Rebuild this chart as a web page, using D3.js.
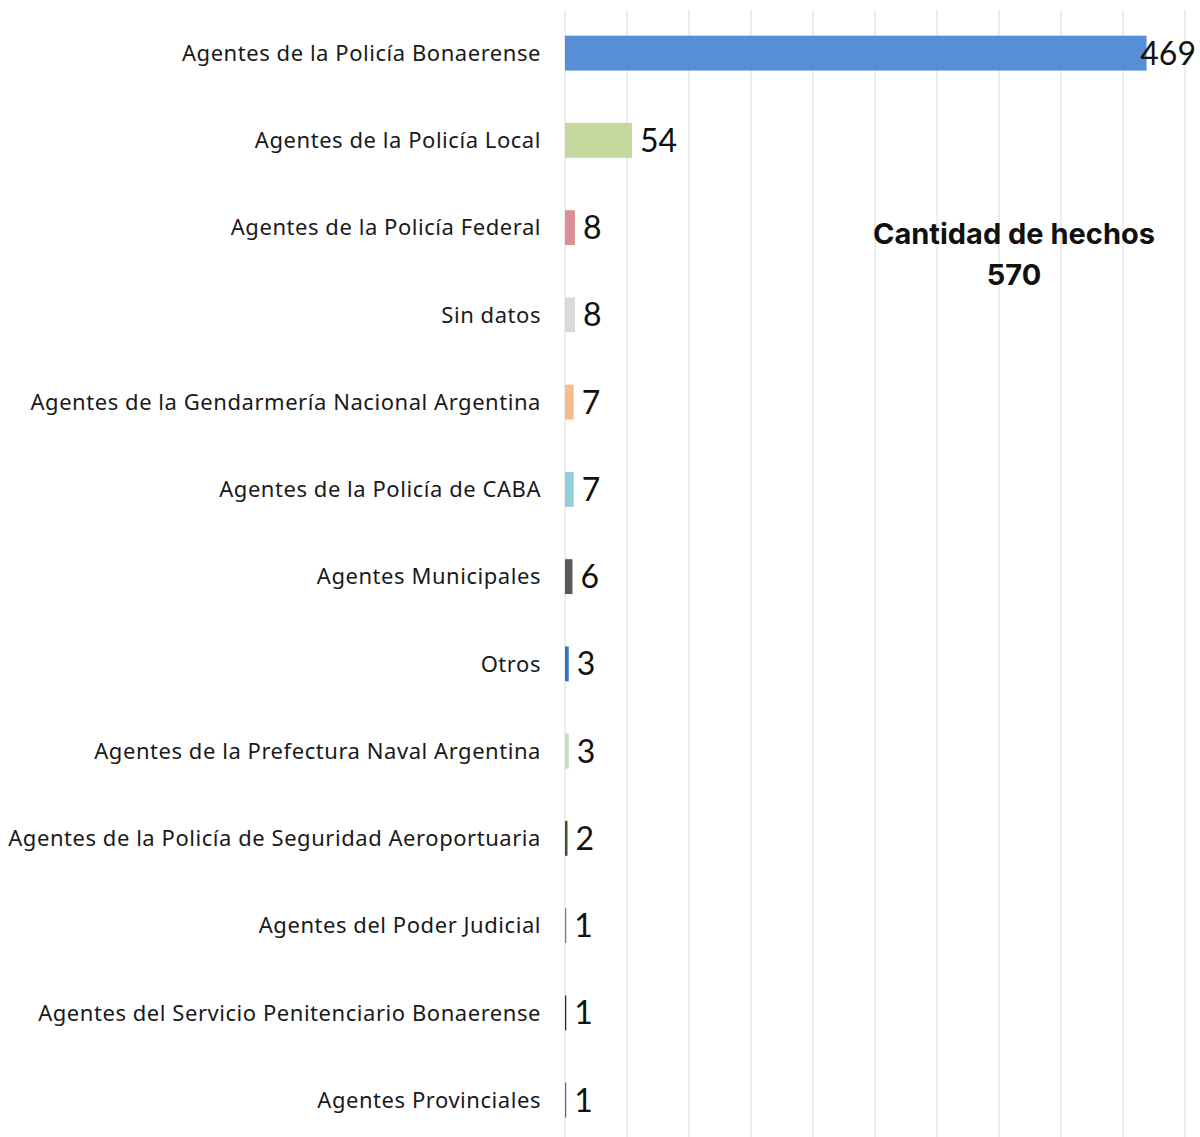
<!DOCTYPE html>
<html>
<head>
<meta charset="utf-8">
<script src="https://cdn.jsdelivr.net/npm/d3@7"></script>
<style>
  body { margin: 0; background: #fff; }
</style>
</head>
<body>
<div id="chart"></div>
<script>
"use strict";

// data
var categories = [
  "Agentes de la Policía Bonaerense",
  "Agentes de la Policía Local",
  "Agentes de la Policía Federal",
  "Sin datos",
  "Agentes de la Gendarmería Nacional Argentina",
  "Agentes de la Policía de CABA",
  "Agentes Municipales",
  "Otros",
  "Agentes de la Prefectura Naval Argentina",
  "Agentes de la Policía de Seguridad Aeroportuaria",
  "Agentes del Poder Judicial",
  "Agentes del Servicio Penitenciario Bonaerense",
  "Agentes Provinciales"
];
var values = [469, 54, 8, 8, 7, 7, 6, 3, 3, 2, 1, 1, 1];
var barColors = ["#568fd6", "#c5d89e", "#d98f93", "#d9d9d9", "#f6bd8c", "#92cddc",
                 "#595959", "#2e75c6", "#c3e0b4", "#375623", "#7f7f7f", "#262626", "#2e75b6"];
var gridTicks = d3.range(0, 501, 50);
var totalTitle = ["Cantidad de hechos", "570"];

var W = 1200, H = 1137;
var svg = d3.select("#chart").append("svg")
    .attr("width", W)
    .attr("height", H);

var x = d3.scaleLinear().domain([0, 500]).range([565, 1185]);
var y = d3.scaleBand().domain(categories)
    .range([9.5, 1143.75])
    .paddingInner(0.6)
    .paddingOuter(0.3);

// vertical grid lines
svg.append("g")
    .selectAll("line").data(gridTicks)
    .join("line")
      .attr("x1", d => x(d)).attr("x2", d => x(d))
      .attr("y1", 10).attr("y2", H)
      .attr("stroke", "#e4e4e4")
      .attr("stroke-width", 1.3);

// bars
svg.append("g")
    .selectAll("rect").data(values)
    .join("rect")
      .attr("x", x(0))
      .attr("y", (d, i) => y(categories[i]))
      .attr("width", d => x(d) - x(0))
      .attr("height", y.bandwidth())
      .attr("fill", (d, i) => barColors[i]);

// category labels
svg.append("g")
    .selectAll("text").data(categories)
    .join("text")
      .attr("x", 541)
      .attr("y", d => y(d) + y.bandwidth() / 2)
      .attr("dy", "0.35em")
      .attr("text-anchor", "end")
      .style("font-family", "'Noto Sans', sans-serif")
      .style("font-size", "22px")
      .style("letter-spacing", "0.55px")
      .style("fill", "#1a1a1a")
      .text(d => d);

// value labels
svg.append("g")
    .selectAll("text").data(values)
    .join("text")
      .attr("x", d => x(d) + 8)
      .attr("y", (d, i) => y(categories[i]) + y.bandwidth() / 2)
      .attr("dy", "0.36em")
      .style("font-family", "Lato, sans-serif")
      .style("font-weight", 400)
      .style("font-size", "32px")
      .style("fill", "#111")
      .text(d => d)
      .each(function() {
        // keep the long one inside the picture
        var len = this.getComputedTextLength();
        var px = +d3.select(this).attr("x");
        if (px + len > W - 4) d3.select(this).attr("x", W - 4 - len);
      });

// total box
svg.append("g")
    .selectAll("text").data(totalTitle)
    .join("text")
      .attr("x", 1014)
      .attr("y", (d, i) => 244 + i * 41)
      .attr("text-anchor", "middle")
      .style("font-family", "Inter, sans-serif")
      .style("font-weight", 700)
      .style("font-size", "29px")
      .style("fill", "#111")
      .text(d => d);
</script>
</body>
</html>
